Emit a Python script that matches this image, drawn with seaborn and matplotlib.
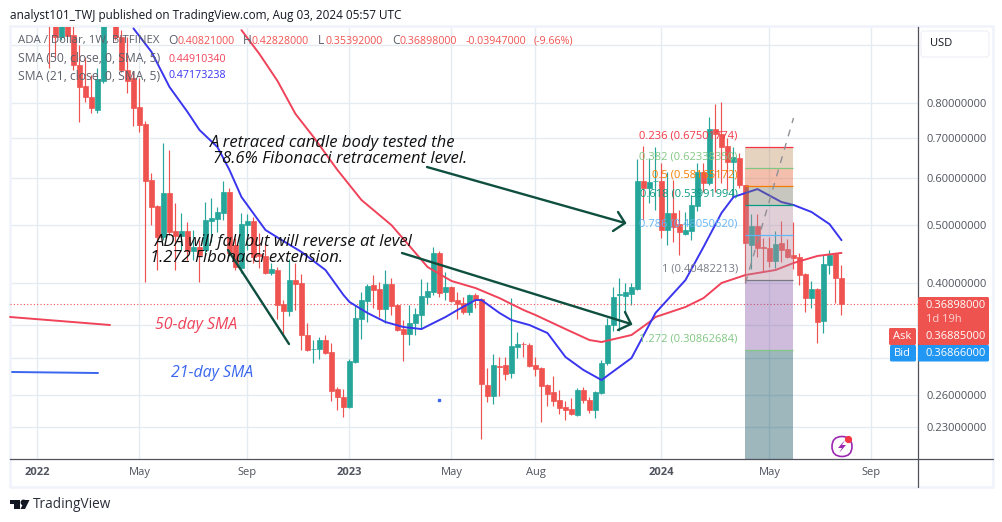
import matplotlib
matplotlib.use("Agg")
import matplotlib.pyplot as plt
from matplotlib.lines import Line2D
from matplotlib.patches import FancyBboxPatch, Polygon, Rectangle
from matplotlib.ticker import FixedLocator, NullLocator
from matplotlib.transforms import IdentityTransform
import numpy as np
import seaborn as sns

# Weekly ADA/USD candles, first_week counts weeks from the start of January 2022
first_week = 2
opens = [
    1.15, 1.13, 1.03, 1.10, 1.04, .926, .854, .818, .779, .871,
    1.17, 1.12, 1.03, .908, .881, .788, .738, .5947, .5381, .4776,
    .5657, .4886, .4794, .4886, .4525, .4595, .4542, .5078, .5118, .5238,
    .5679, .4631, .4238, .4998, .5078, .4473, .4439, .4155, .4205, .3690,
    .3591, .4046, .4000, .3274, .3102, .3102, .3211, .3067, .2659, .2579,
    .2482, .2951, .3482, .3732, .3969, .3908, .3619, .3984, .3675, .3350,
    .3286, .3429, .3536, .3787, .3863, .4490, .3863, .3939, .3746, .3704,
    .3578, .3819, .3760, .2701, .2589, .2909, .2917, .2829, .3126, .3166,
    .3150, .2917, .2883, .2701, .2629, .2549, .2482, .2463, .2406, .2649,
    .2549, .2453, .2619, .2939, .3402, .3819, .3802, .3834, .3908, .5924,
    .5765, .5924, .5924, .4905, .5238, .5018, .4831, .4886, .5381, .6133,
    .5879, .7238, .7097, .6780, .6374, .6474, .5834, .4631, .4978, .4595,
    .4577, .4354, .4667, .4560, .4456, .4422, .4139, .3774, .3908, .3455,
    .4285, .4473, .40821,
]
highs = [
    1.20, 1.20, 1.20, 1.15, 1.10, 1.00, .955, .891, .915, 1.15,
    1.20, 1.15, 1.06, 1.03, .90, .881, .745, .611, .54, .6858,
    .6675, .544, .5238, .5058, .4905, .472, .5463, .555, .536, .5925,
    .5767, .4756, .5238, .5218, .5158, .485, .4649, .432, .4255, .3746,
    .4387, .432, .4139, .3429, .3211, .3249, .3274, .3175, .268, .2659,
    .2985, .3675, .3863, .3984, .4125, .4015, .4205, .4077, .369, .3468,
    .3675, .3633, .4061, .4015, .4595, .452, .4172, .395, .3863, .3787,
    .3834, .3848, .3774, .2883, .3043, .3008, .3008, .3775, .3312, .3187,
    .3175, .3008, .2895, .2711, .2796, .2649, .2539, .2569, .2670, .2680,
    .2579, .2639, .2973, .3495, .3939, .4077, .40, .40, .6448, .678,
    .6473, .6754, .6347, .6133, .5947, .5298, .5258, .5614, .6347, .6347,
    .7581, .7969, .8031, .6992, .6754, .6596, .5834, .5218, .5218, .4756,
    .4776, .4886, .5078, .4738, .5058, .449, .4155, .4031, .3923, .4456,
    .4542, .449, .42828,
]
lows = [
    .915, .955, 1.02, 1.03, .908, .743, .803, .770, .770, .864,
    1.09, 1.02, .90, .831, .731, .715, .4015, .50, .4205, .472,
    .4813, .4205, .4542, .437, .437, .4015, .4456, .4684, .4868, .5098,
    .4456, .4205, .4155, .4542, .432, .4238, .414, .4125, .3482, .3274,
    .3523, .3605, .309, .3078, .2939, .2985, .3043, .2539, .2453, .2388,
    .2472, .2945, .3224, .3442, .3633, .3509, .3429, .3536, .3324, .2962,
    .315, .3274, .335, .369, .3819, .3787, .3746, .3718, .3482, .355,
    .3536, .3633, .2194, .253, .251, .2589, .2753, .2775, .2996, .3008,
    .2895, .2796, .2342, .2491, .2491, .2416, .236, .241, .2397, .252,
    .2425, .2379, .2609, .2917, .3324, .3324, .3578, .3675, .3893, .5098,
    .544, .5298, .4756, .4631, .4684, .4456, .4813, .472, .5278, .5679,
    .5834, .5679, .5879, .5722, .5571, .5767, .40, .4222, .4422, .4172,
    .4255, .4238, .4337, .4405, .4222, .3969, .3578, .3633, .3175, .3299,
    .4139, .3704, .35392,
]
closes = [
    1.10, 1.03, 1.10, 1.035, .926, .851, .818, .785, .877, 1.12,
    1.12, 1.03, .908, .871, .785, .735, .592, .536, .4776, .5657,
    .4868, .4794, .4886, .4525, .4595, .4456, .5098, .5138, .5258, .5679,
    .449, .4255, .5018, .5078, .4422, .4439, .4155, .4222, .3675, .3591,
    .4046, .3984, .3274, .309, .3108, .3211, .3055, .2639, .2579, .2482,
    .2962, .3495, .3746, .3954, .3893, .3619, .3984, .3661, .3337, .3286,
    .3429, .355, .3802, .3878, .449, .3848, .3939, .3732, .369, .3578,
    .3819, .3746, .2711, .2589, .2917, .2898, .2818, .3138, .3162, .3159,
    .2906, .2872, .269, .2609, .2539, .2472, .2453, .2416, .2649, .2549,
    .2453, .2629, .2939, .3402, .3787, .3827, .3863, .3939, .5924, .5765,
    .5902, .5935, .4905, .5238, .4961, .4868, .4905, .5402, .6133, .5879,
    .7238, .7097, .6754, .6374, .6499, .5834, .4667, .4978, .4577, .4577,
    .4354, .4649, .4542, .4422, .4405, .4125, .3774, .3908, .3442, .4302,
    .4456, .4082, .36898,
]

# Moving averages
sma21_weeks = [16, 19, 22, 25, 27, 30, 32, 34, 38, 41, 44, 48, 51, 52, 55, 58, 61, 64, 66, 68,
               70, 73, 74, 77, 79, 82, 85, 88, 91, 94, 99, 103, 108, 111, 114, 116, 118, 120,
               124, 126, 129, 132, 134]
sma21_values = [1.066, .974, .851, .773, .721, .675, .618, .557, .4905, .470, .4508, .4205, .3819,
                .3718, .3564, .3442, .3376, .335, .3429, .3509, .3605, .3746, .3746, .3564, .3468,
                .3402, .3299, .3008, .2861, .2753, .2996, .3564, .4046, .4595, .5238, .557, .5657,
                .5743, .5463, .5402, .5258, .5018, .47173]
sma50_weeks = [34, 37, 40, 43, 46, 50, 54, 59, 62, 65, 69, 73, 77, 81, 83, 88, 92, 94, 99, 102,
               103, 108, 111, 114, 118, 123, 126, 130, 134]
sma50_values = [1.059, .966, .871, .767, .702, .618, .5506, .4998, .4613, .4255, .4031, .3923,
                .3774, .3605, .3536, .335, .3211, .3187, .3274, .3442, .3509, .3647, .3774, .40,
                .4125, .4205, .432, .4439, .4491]

# Fibonacci extension levels
fib_ratios = ["0.236", "0.382", "0.5", "0.618", "0.786", "1", "1.272"]
fib_prices = [.67501774, .62338350, .58165172, .53991994, .48050620, .40482213, .30862684]
fib_prices_text = ["0.67501774", "0.62338350", "0.58165172", "0.53991994", "0.48050620",
                   "0.40482213", "0.30862684"]

# Axis labelling; 1.0, 0.34 and 0.30 sit behind the scale widgets and carry no text
time_ticks = [0, 17, 35, 52, 69, 83, 104, 122, 139]
time_labels = ["2022", "May", "Sep", "2023", "May", "Aug", "2024", "May", "Sep"]
price_ticks = [1.0, .8, .7, .6, .5, .4, .34, .3, .26, .23]
price_labels = ["", "0.80000000", "0.70000000", "0.60000000", "0.50000000", "0.40000000", "", "",
                "0.26000000", "0.23000000"]

# Header readouts
last_price = .36898
ask_price = "0.36885000"
bid_price = "0.36866000"

RED = "#ef5350"
GREEN = "#26a69a"
LINE_RED = "#f0435a"
LINE_BLUE = "#3a35ee"
ARROW = "#0e4f3f"
UI_FONT = "Open Sans"
FIG_W, FIG_H = 1003, 522

sns.set_theme(style="white")
plt.rcParams["font.family"] = [UI_FONT, "DejaVu Sans"]

fig = plt.figure(figsize=(FIG_W / 100, FIG_H / 100), dpi=100, facecolor="white")
ax = fig.add_axes([10 / FIG_W, 1 - 459 / FIG_H, 908 / FIG_W, 432 / FIG_H])


def px(x, y):
    """Pixel position on the canvas, measured from the top left, as figure fractions."""
    return x / FIG_W, 1 - y / FIG_H


def canvas_line(xs, ys, **kw):
    fx, fy = zip(*(px(a, b) for a, b in zip(xs, ys)))
    ax.add_line(Line2D(fx, fy, transform=fig.transFigure, clip_on=False, **kw))


def canvas_text(x, y, s, **kw):
    kw.setdefault("va", "center")
    kw.setdefault("ha", "left")
    kw.setdefault("clip_on", False)
    fx, fy = px(x, y)
    ax.text(fx, fy, s, transform=fig.transFigure, **kw)


def canvas_box(x0, y0, x1, y1, color, round_px=0.0, ec=None, zorder=8):
    # Display units equal canvas pixels at this dpi
    box = FancyBboxPatch((x0 + round_px, FIG_H - y1 + round_px), x1 - x0 - 2 * round_px,
                         y1 - y0 - 2 * round_px,
                         boxstyle=f"round,pad={round_px},rounding_size={round_px}",
                         fc=color, ec=ec or color, lw=0.6 if ec else 0,
                         transform=IdentityTransform(), clip_on=False, zorder=zorder)
    ax.add_patch(box)


ax.set_yscale("log")
ax.set_xlim(-4.58, 146.75)
ax.set_ylim(.2031, 1.072)
ax.yaxis.set_major_locator(FixedLocator(price_ticks))
ax.yaxis.set_minor_locator(NullLocator())
ax.yaxis.tick_right()
ax.set_yticklabels(price_labels)
ax.set_xticks(time_ticks)
ax.set_xticklabels(time_labels)
ax.tick_params(axis="y", length=0, pad=5.8, labelsize=8.0, labelcolor="#50535e")
ax.tick_params(axis="x", length=0, pad=5.5, labelsize=8.0, labelcolor="#50535e")
for label, text in zip(ax.get_xticklabels(), time_labels):
    if text.isdigit():
        label.set_fontweight("bold")
ax.grid(True, color="#e4ecf2", lw=1.0)
ax.set_axisbelow(True)
for side in ("top", "left"):
    ax.spines[side].set_visible(False)
for side in ("bottom", "right"):
    ax.spines[side].set_color("#50535e")
    ax.spines[side].set_linewidth(0.9)

# Candles
weeks = np.arange(first_week, first_week + len(opens))
o, h, l, c = map(np.array, (opens, highs, lows, closes))
colors = np.where(c >= o, GREEN, RED)
ax.vlines(weeks, l, h, colors=colors, lw=0.85, zorder=2)
ax.bar(weeks, np.abs(c - o), bottom=np.minimum(o, c), width=0.68, color=colors,
       edgecolor=colors, linewidth=0.5, zorder=3)

# Moving averages
sns.lineplot(x=sma50_weeks, y=sma50_values, color=LINE_RED, lw=1.4, estimator=None, sort=False,
             ax=ax, zorder=4, legend=False)
sns.lineplot(x=sma21_weeks, y=sma21_values, color=LINE_BLUE, lw=1.4, estimator=None, sort=False,
             ax=ax, zorder=4, legend=False)

# Last price line
ax.axhline(last_price, color=RED, lw=0.8, ls=(0, (1, 2)), zorder=2.5)

# Fibonacci zones and level lines
fib_week_start, fib_week_end = 118, 126
zone_colors = ["#c09162", "#e66132", "#75755f", "#b6899d", "#b6899d", "#8757a8", "#0a4b58"]
level_colors = ["#f23645", "#81c784", "#f57c00", "#089981", "#64b5f6", "#787b86", "#81c784"]
edges = fib_prices + [ax.get_ylim()[0]]
for k, price in enumerate(fib_prices):
    ax.add_patch(Rectangle((fib_week_start, edges[k + 1]), fib_week_end - fib_week_start,
                           edges[k] - edges[k + 1], fc=zone_colors[k], ec="none", alpha=0.4,
                           zorder=5))
    ax.hlines(price, fib_week_start, fib_week_end, color=level_colors[k], lw=0.9, zorder=5)
    ax.annotate(f"{fib_ratios[k]} ({fib_prices_text[k]})", (fib_week_start, price),
                xytext=(-5.5, 8), textcoords="offset points", ha="right", va="center",
                color=level_colors[k], fontsize=8.0, zorder=7)
ax.plot([118, 126], [.400, .755], color="#8f8f96", lw=1.0, ls=(0, (5, 5)), zorder=5.5)

# Drawn notes on the chart
NOTE_STYLE = dict(color="#111111", fontsize=12.0, fontstyle="italic", zorder=7)
canvas_text(210, 143, "A retraced candle body tested the", **NOTE_STYLE)
canvas_text(213.5, 159, "78.6% Fibonacci retracement level.", **NOTE_STYLE)
canvas_text(155, 242, "ADA will fall but will reverse at level", **NOTE_STYLE)
canvas_text(150, 258, "1.272 Fibonacci extension.", **NOTE_STYLE)
canvas_text(155, 325, "50-day SMA", color=LINE_RED, fontsize=11.4, fontstyle="italic", zorder=7)
canvas_text(171, 373, "21-day SMA", color="#3a66f0", fontsize=11.4, fontstyle="italic", zorder=7)
canvas_line([10, 110], [317, 325], color=LINE_RED, lw=1.4, zorder=4)
canvas_line([12, 98], [372, 373], color="#3a66f0", lw=1.4, zorder=4)
canvas_line([439], [400], color="#3a66f0", marker="s", ms=1.6, lw=0, zorder=4)

ARROW_STYLE = dict(color=ARROW, lw=1.7, zorder=6, solid_capstyle="round")
canvas_line([427, 625], [167, 223], **ARROW_STYLE)
canvas_line([618, 625, 613], [212, 223, 231], **ARROW_STYLE)
canvas_line([402, 631], [253, 324], **ARROW_STYLE)
canvas_line([625, 631, 618], [312, 324, 330], **ARROW_STYLE)
canvas_line([228, 289], [250, 344], **ARROW_STYLE)

# Panel frame
frame_color = "#f0f3fa"
canvas_line([10, 993, 993, 10, 10], [26, 26, 487, 487, 26], color=frame_color, lw=1.9, zorder=1)
canvas_line([918, 918], [459, 487], color="#50535e", lw=0.9, zorder=1.5)
canvas_line([918, 993], [459, 459], color="#50535e", lw=0.9, zorder=1.5)

# Price scale widgets
canvas_box(921, 31, 989, 57, "white", round_px=3, ec="#e8ebf3")
canvas_text(930, 44, "USD", color="#131722", fontsize=8.0, zorder=9)
canvas_box(918, 297, 989, 345, RED, round_px=1.5)
canvas_box(918, 345, 989, 361.5, "#2196f3", round_px=1.5)
canvas_box(889, 328, 916, 345, RED, round_px=1.5)
canvas_box(890, 345, 916, 361.5, "#2196f3", round_px=1.5)
BOX_TEXT = dict(color="white", fontsize=8.0, zorder=9)
canvas_text(926, 305, f"{last_price:.8f}", **BOX_TEXT)
canvas_text(926, 320, "1d 19h", color="#fbd2d0", fontsize=8.0, zorder=9)
canvas_text(926, 336.5, ask_price, **BOX_TEXT)
canvas_text(926, 353, bid_price, **BOX_TEXT)
canvas_text(893, 336.5, "Ask", **BOX_TEXT)
canvas_text(894, 353, "Bid", **BOX_TEXT)

# Legend rows
LEGEND = dict(color="#5d606b", fontsize=8.7, zorder=7)
canvas_text(18, 41, "ADA / Dollar, 1W, BITFINEX", color="#5d606b", fontsize=8.2, zorder=7)
canvas_text(18, 59, "SMA (50, close, 0, SMA, 5)", **LEGEND)
canvas_text(18, 76, "SMA (21, close, 0, SMA, 5)", **LEGEND)
canvas_text(168, 41, "O", **LEGEND)
canvas_text(243, 41, "H", **LEGEND)
canvas_text(318, 41, "L", **LEGEND)
canvas_text(392, 41, "C", **LEGEND)
VALUE = dict(color=RED, fontsize=7.7, zorder=7)
canvas_text(177, 41, "0.40821000", **VALUE)
canvas_text(252, 41, "0.42828000", **VALUE)
canvas_text(326, 41, "0.35392000", **VALUE)
canvas_text(400, 41, "0.36898000", **VALUE)
canvas_text(466, 41, "-0.03947000", **VALUE)
canvas_text(534, 41, "(-9.66%)", **VALUE)
canvas_text(169, 59, "0.44910340", color=LINE_RED, fontsize=7.7, zorder=7)
canvas_text(169, 76, "0.47173238", color=LINE_BLUE, fontsize=7.7, zorder=7)

# Title row and brand line
canvas_text(10, 15, "analyst101_TWJ published on TradingView.com, Aug 03, 2024 05:57 UTC",
            color="#131722", fontsize=8.47)
canvas_box(10, 500, 20, 504, "#131722")
canvas_box(14, 500, 20, 509, "#131722")
canvas_line([22.5], [502], color="#131722", marker="o", ms=3.2, lw=0, zorder=8)
ax.add_patch(Polygon([px(25, 500), px(29.5, 500), px(25, 509), px(20.5, 509)],
                     transform=fig.transFigure, fc="#131722", ec="none", clip_on=False, zorder=8))
canvas_text(33, 504, "TradingView", color="#2a2e39", fontsize=9.8)

# Activity badge near the time axis
bolt_center = (842, 446.5)
ring = FancyBboxPatch((bolt_center[0] - 10, FIG_H - bolt_center[1] - 10), 20, 20,
                      boxstyle="round,pad=0,rounding_size=10", fc="none", ec="#9c27b0", lw=1.2,
                      transform=IdentityTransform(), clip_on=False, zorder=7)
ax.add_patch(ring)
ax.add_patch(Polygon([px(845, 440), px(838, 448), px(842, 448), px(839, 453), px(846, 445),
                      px(842, 445)], transform=fig.transFigure, fc="#9c27b0", ec="none", zorder=7))
canvas_line([848], [439], marker="o", ms=4.2, color="#f23645", lw=0, zorder=8)

fig.savefig("out.png", dpi=100, facecolor="white")
